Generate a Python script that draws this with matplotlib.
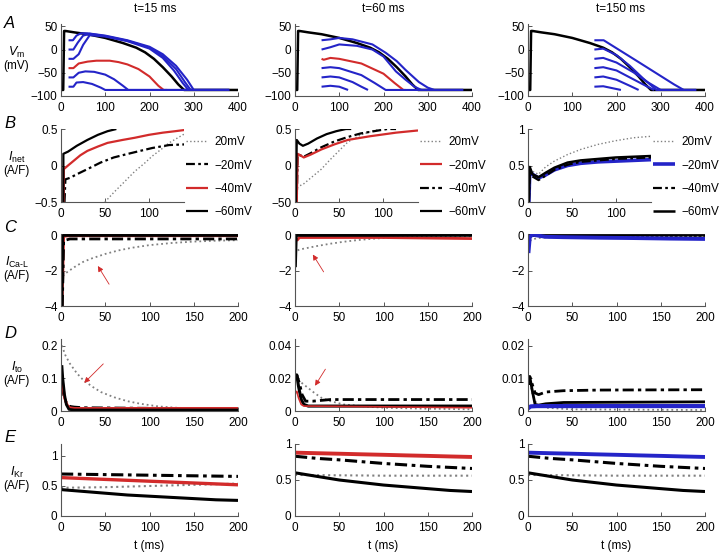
import matplotlib
matplotlib.use('Agg')
import matplotlib.pyplot as plt

plt.rcParams['font.family'] = ['Liberation Sans', 'DejaVu Sans']
plt.rcParams['font.size'] = 8.5
plt.rcParams['mathtext.fontset'] = 'custom'
plt.rcParams['mathtext.rm'] = 'Liberation Sans'
plt.rcParams['mathtext.it'] = 'Liberation Sans:italic'

BLUE = '#2424c8'
RED = '#d22b2b'
GRAY = '#808080'
DASHDOT = (0, (4, 1.5, 1.2, 1.5))

titles = ['t=15 ms', 't=60 ms', 't=150 ms']
legend_labels = ['20mV', '\u221220mV', '\u221240mV', '\u221260mV']

# ---- row A: membrane potential (ms, mV) ----
ap_t = [0, 5, 7, 10, 30, 60, 100, 140, 170, 190, 210, 230, 250, 265, 278, 400]
ap_v = [-87, -87, 40, 40, 37, 33, 25, 14, 4, -6, -20, -38, -58, -75, -87, -87]

a1_p20_t = [17, 27, 35, 45, 60, 100, 150, 200, 230, 260, 285, 300, 380]
a1_p20_v = [20, 20, 30, 35, 35, 30, 20, 6, -10, -35, -65, -87, -87]
a1_p0_t = [17, 28, 38, 50, 65, 100, 150, 200, 230, 260, 280, 293, 380]
a1_p0_v = [0, 0, 15, 30, 34, 29, 19, 4, -14, -42, -70, -87, -87]
a1_m20_t = [17, 28, 40, 50, 65, 100, 150, 200, 230, 255, 275, 288, 380]
a1_m20_v = [-20, -20, -10, 10, 31, 28, 18, 2, -18, -45, -72, -87, -87]
a1_m40_t = [17, 28, 40, 60, 80, 110, 130, 150, 175, 200, 220, 232, 240]
a1_m40_v = [-40, -40, -30, -26, -24, -24, -27, -32, -42, -58, -78, -87, -87]
a1_m60_t = [17, 28, 40, 55, 75, 100, 120, 140, 152, 380]
a1_m60_v = [-60, -60, -50, -47, -48, -54, -64, -78, -87, -87]
a1_m80_t = [17, 28, 35, 50, 70, 90, 100, 380]
a1_m80_v = [-80, -80, -71, -70, -74, -82, -87, -87]

a2_p20_t = [60, 80, 100, 130, 175, 205, 230, 250, 280, 300, 315, 380]
a2_p20_v = [20, 22, 25, 22, 11, -7, -25, -44, -70, -82, -87, -87]
a2_p0_t = [60, 80, 100, 140, 175, 200, 228, 250, 270, 286, 380]
a2_p0_v = [0, 5, 11, 8, 0, -15, -47, -65, -80, -87, -87]
a2_m20_t = [60, 65, 80, 100, 150, 200, 225, 245, 250]
a2_m20_v = [-20, -22, -18, -20, -30, -52, -72, -87, -87]
a2_m40_t = [60, 80, 100, 150, 180, 205, 380]
a2_m40_v = [-40, -38, -40, -55, -72, -87, -87]
a2_m60_t = [60, 80, 100, 130, 150, 165]
a2_m60_v = [-60, -58, -60, -70, -80, -87]
a2_m80_t = [60, 80, 100, 120]
a2_m80_v = [-80, -78, -80, -87]

a3_p20_t = [150, 171, 250, 330, 352, 380]
a3_p20_v = [20, 20, -27, -75, -87, -87]
a3_p0_t = [150, 170, 200, 230, 260, 290, 380]
a3_p0_v = [0, 2, -12, -35, -62, -87, -87]
a3_m20_t = [150, 170, 200, 240, 270, 300, 380]
a3_m20_v = [-20, -18, -28, -50, -70, -87, -87]
a3_m40_t = [150, 170, 200, 240, 270, 285]
a3_m40_v = [-40, -38, -45, -65, -80, -87]
a3_m60_t = [150, 170, 200, 230, 250]
a3_m60_v = [-60, -58, -65, -78, -87]
a3_m80_t = [150, 170, 190, 210]
a3_m80_v = [-80, -79, -83, -87]

# ---- row B: I_net (A/F) ----
b1_m60_t = [2.7, 2.7, 8, 18, 30, 42, 53, 63]
b1_m60_v = [-0.5, 0.16, 0.19, 0.27, 0.35, 0.42, 0.47, 0.5]
b1_m40_t = [3.2, 3.2, 8, 14, 22, 30, 42, 53, 70, 84, 100, 116, 130, 143]
b1_m40_v = [-0.5, -0.05, 0.0, 0.06, 0.14, 0.2, 0.26, 0.31, 0.35, 0.38, 0.42, 0.45, 0.47, 0.49]
b1_m20_t = [4, 5, 10, 18, 30, 45, 60, 73, 90, 104, 123, 143]
b1_m20_v = [-0.5, -0.19, -0.17, -0.12, -0.05, 0.04, 0.11, 0.15, 0.2, 0.24, 0.28, 0.29]
b1_p20_t = [50, 60, 70, 84, 95, 104, 115, 123, 133, 143]
b1_p20_v = [-0.5, -0.37, -0.25, -0.08, 0.03, 0.13, 0.23, 0.31, 0.38, 0.45]

b2_m60_t = [1, 2, 5, 9, 15, 25, 36, 47, 58, 64]
b2_m60_v = [-0.5, 0.35, 0.3, 0.27, 0.3, 0.37, 0.43, 0.47, 0.5, 0.5]
b2_m40_t = [2, 3, 6, 10, 18, 30, 45, 60, 75, 90, 105, 115]
b2_m40_v = [-0.5, 0.15, 0.14, 0.12, 0.17, 0.25, 0.33, 0.39, 0.44, 0.47, 0.5, 0.5]
b2_m20_t = [2, 3, 6, 10, 18, 30, 45, 60, 85, 115, 140]
b2_m20_v = [-0.5, 0.16, 0.14, 0.11, 0.15, 0.22, 0.29, 0.35, 0.4, 0.45, 0.48]
b2_p20_t = [1, 2, 10, 20, 30, 40, 50, 60, 75, 90, 100]
b2_p20_v = [-0.5, -0.3, -0.25, -0.15, -0.05, 0.08, 0.2, 0.32, 0.42, 0.48, 0.5]

b3_t = [1, 2, 5, 12, 20, 30, 45, 60, 80, 100, 120, 140]
b3_p20_v = [0, 0.45, 0.42, 0.38, 0.48, 0.56, 0.65, 0.72, 0.79, 0.84, 0.88, 0.9]
b3_m20_v = [0, 0.42, 0.38, 0.33, 0.37, 0.44, 0.5, 0.53, 0.55, 0.56, 0.57, 0.58]
b3_m40_v = [0, 0.42, 0.35, 0.3, 0.36, 0.44, 0.51, 0.55, 0.57, 0.59, 0.6, 0.61]
b3_m60_v = [0, 0.48, 0.38, 0.34, 0.4, 0.47, 0.54, 0.57, 0.59, 0.61, 0.62, 0.63]

# ---- row C: I_CaL (A/F) ----
c1_m60_t = [1, 2, 5, 200]
c1_m60_v = [-4, 0, 0, 0]
c1_m40_t = [1.2, 3, 10, 200]
c1_m40_v = [-4, -0.05, -0.02, -0.02]
c1_m20_t = [1.5, 3, 10, 200]
c1_m20_v = [-4, -0.3, -0.2, -0.2]
c1_p20_t = [2, 5, 15, 25, 35, 50, 65, 80, 100, 125, 150, 175, 200]
c1_p20_v = [-2.3, -2.15, -1.8, -1.5, -1.3, -1.05, -0.85, -0.7, -0.55, -0.43, -0.35, -0.3, -0.27]

c2_m60_t = [0.5, 1.5, 5, 200]
c2_m60_v = [-1.8, 0, 0, 0]
c2_m20_t = [2, 5, 50, 100, 150, 200]
c2_m20_v = [-0.3, -0.12, -0.12, -0.12, -0.15, -0.18]
c2_p20_t = [3, 5, 15, 25, 40, 55, 70, 90, 110, 140, 170, 200]
c2_p20_v = [-0.85, -0.8, -0.7, -0.6, -0.47, -0.36, -0.27, -0.18, -0.12, -0.08, -0.06, -0.05]

c3_m60_t = [0, 100, 200]
c3_m60_v = [0, 0, 0]
c3_p20_t = [2, 10, 30, 200]
c3_p20_v = [-0.3, -0.15, -0.1, -0.08]
c3_m20_t = [0.5, 2, 5, 10, 20, 40, 80, 120, 160, 200]
c3_m20_v = [-1.0, -0.1, 0.05, 0.0, -0.08, -0.1, -0.13, -0.15, -0.18, -0.2]

# ---- row D: I_to (A/F) ----
d1_p20_t = [1, 5, 10, 18, 25, 35, 45, 60, 75, 90, 110, 130, 160, 200]
d1_p20_v = [0.2, 0.17, 0.145, 0.115, 0.095, 0.075, 0.058, 0.042, 0.03, 0.022, 0.014, 0.01, 0.007, 0.005]
d1_m60_t = [1, 2, 4, 6, 9, 15, 200]
d1_m60_v = [0.14, 0.1, 0.05, 0.02, 0.005, 0.003, 0.003]
d1_m40_t = [1, 2, 4, 7, 10, 15, 200]
d1_m40_v = [0.11, 0.08, 0.04, 0.018, 0.01, 0.008, 0.008]
d1_m20_t = [1, 3, 6, 10, 15, 25, 200]
d1_m20_v = [0.08, 0.05, 0.025, 0.014, 0.012, 0.01, 0.006]

d2_m60_t = [1, 2, 4, 7, 10, 15, 30, 200]
d2_m60_v = [0.02, 0.022, 0.015, 0.007, 0.004, 0.003, 0.003, 0.003]
d2_m40_t = [1, 2, 5, 8, 12, 20, 40, 200]
d2_m40_v = [0.02, 0.022, 0.017, 0.01, 0.006, 0.006, 0.007, 0.007]
d2_m20_t = [1, 2, 4, 7, 10, 20, 200]
d2_m20_v = [0.011, 0.012, 0.008, 0.004, 0.003, 0.003, 0.002]
d2_p20_t = [3, 8, 15, 22, 30, 40, 55, 75, 100, 140, 200]
d2_p20_v = [0.019, 0.017, 0.014, 0.011, 0.008, 0.006, 0.004, 0.003, 0.002, 0.0015, 0.001]

d3_m40_t = [1, 2, 5, 8, 12, 20, 40, 80, 200]
d3_m40_v = [0.008, 0.0105, 0.008, 0.0055, 0.005, 0.0058, 0.0062, 0.0064, 0.0065]
d3_m60_t = [1, 2, 5, 8, 12, 20, 40, 200]
d3_m60_v = [0.008, 0.0105, 0.006, 0.002, 0.0018, 0.0022, 0.0026, 0.0028]
d3_m20_t = [0, 3, 10, 50, 200]
d3_m20_v = [0.0008, 0.0014, 0.0015, 0.0015, 0.0015]
d3_p20_t = [1, 2, 5, 10, 20, 50, 200]
d3_p20_v = [0.008, 0.009, 0.005, 0.002, 0.001, 0.0005, 0.0003]

# ---- row E: I_Kr (A/F) ----
e_t = [0, 25, 50, 75, 100, 125, 150, 175, 200]
e1_m20_v = [0.70, 0.695, 0.69, 0.685, 0.68, 0.675, 0.67, 0.665, 0.66]
e1_m40_v = [0.64, 0.625, 0.61, 0.595, 0.58, 0.565, 0.55, 0.535, 0.52]
e1_p20_v = [0.47, 0.475, 0.48, 0.49, 0.5, 0.51, 0.52, 0.53, 0.54]
e1_m60_v = [0.44, 0.41, 0.38, 0.35, 0.33, 0.31, 0.29, 0.27, 0.26]

e2_m20_v = [0.88, 0.872, 0.865, 0.857, 0.85, 0.842, 0.835, 0.827, 0.82]
e2_m40_v = [0.83, 0.80, 0.78, 0.755, 0.73, 0.71, 0.69, 0.675, 0.66]
e2_p20_v = [0.57, 0.568, 0.565, 0.563, 0.56, 0.56, 0.56, 0.56, 0.56]
e2_m60_v = [0.60, 0.55, 0.50, 0.465, 0.43, 0.405, 0.38, 0.355, 0.34]

e3_m20_v = [0.88, 0.872, 0.865, 0.857, 0.85, 0.842, 0.835, 0.827, 0.82]
e3_m40_v = [0.83, 0.80, 0.78, 0.755, 0.73, 0.71, 0.69, 0.675, 0.66]
e3_p20_v = [0.57, 0.568, 0.565, 0.563, 0.56, 0.56, 0.56, 0.56, 0.56]
e3_m60_v = [0.60, 0.55, 0.50, 0.465, 0.43, 0.405, 0.38, 0.355, 0.34]

W, H = 722, 555
fig = plt.figure(figsize=(7.22, 5.55), dpi=100)


def add_ax(left, top, width, height):
    ax = fig.add_axes([left / W, 1 - (top + height) / H, width / W, height / H])
    ax.spines['top'].set_visible(False)
    ax.spines['right'].set_visible(False)
    for s in ('left', 'bottom'):
        ax.spines[s].set_color('#555555')
        ax.spines[s].set_linewidth(0.8)
    ax.tick_params(direction='in', length=3, width=0.7, color='#555555', pad=2.5)
    ax.tick_params(axis='x', pad=4)
    ax.patch.set_alpha(0)
    return ax


def ftext(x, y, s, **kw):
    fig.text(x / W, 1 - y / H, s, **kw)


col_left = [61, 295, 528]
row_top = [24, 129, 234, 339, 444]
wide, narrow, hgt = 177, 123, 72

def dotted(ax, t, v, lw=1.0):
    return ax.plot(t, v, color=GRAY, linestyle=':', lw=lw)[0]

def dashdot(ax, t, v, lw=1.6):
    return ax.plot(t, v, color='black', linestyle=DASHDOT, lw=lw)[0]

def solid(ax, t, v, c, lw=1.6):
    return ax.plot(t, v, color=c, lw=lw, solid_capstyle='butt')[0]

# ---- row A ----
a_sets = [
    [(a1_p20_t, a1_p20_v, BLUE), (a1_p0_t, a1_p0_v, BLUE), (a1_m20_t, a1_m20_v, BLUE),
     (a1_m40_t, a1_m40_v, RED), (a1_m60_t, a1_m60_v, BLUE), (a1_m80_t, a1_m80_v, BLUE)],
    [(a2_p20_t, a2_p20_v, BLUE), (a2_p0_t, a2_p0_v, BLUE), (a2_m20_t, a2_m20_v, RED),
     (a2_m40_t, a2_m40_v, BLUE), (a2_m60_t, a2_m60_v, BLUE), (a2_m80_t, a2_m80_v, BLUE)],
    [(a3_p20_t, a3_p20_v, BLUE), (a3_p0_t, a3_p0_v, BLUE), (a3_m20_t, a3_m20_v, BLUE),
     (a3_m40_t, a3_m40_v, BLUE), (a3_m60_t, a3_m60_v, BLUE), (a3_m80_t, a3_m80_v, BLUE)],
]
for j in range(3):
    ax = add_ax(col_left[j], row_top[0], wide, hgt)
    solid(ax, ap_t, ap_v, 'black', lw=1.8)
    for t, v, c in a_sets[j]:
        solid(ax, t, v, c, lw=1.5)
    ax.set_xlim(0, 400)
    ax.set_ylim(-100, 55)
    ax.set_xticks([0, 100, 200, 300, 400])
    ax.set_yticks([-100, -50, 0, 50])

# ---- row B ----
ax = add_ax(col_left[0], row_top[1], narrow, 73)
h20 = dotted(ax, b1_p20_t, b1_p20_v)
hm20 = dashdot(ax, b1_m20_t, b1_m20_v)
hm40 = solid(ax, b1_m40_t, b1_m40_v, RED)
hm60 = solid(ax, b1_m60_t, b1_m60_v, 'black')
b_axes = [(ax, [h20, hm20, hm40, hm60])]
ax.set_ylim(-0.5, 0.5)
ax.set_yticks([-0.5, 0, 0.5])
ax.set_yticklabels(['\u22120.5', '0', '0.5'])

ax = add_ax(col_left[1], row_top[1], narrow, 73)
h20 = dotted(ax, b2_p20_t, b2_p20_v)
hm40 = dashdot(ax, b2_m40_t, b2_m40_v)
hm20 = solid(ax, b2_m20_t, b2_m20_v, RED)
hm60 = solid(ax, b2_m60_t, b2_m60_v, 'black')
b_axes.append((ax, [h20, hm20, hm40, hm60]))
ax.set_ylim(-0.5, 0.5)
ax.set_yticks([-0.5, 0, 0.5])
ax.set_yticklabels(['\u221250', '0', '0.5'])

ax = add_ax(col_left[2], row_top[1], narrow, 73)
h20 = dotted(ax, b3_t, b3_p20_v)
hm20 = solid(ax, b3_t, b3_m20_v, BLUE, lw=2.6)
hm40 = dashdot(ax, b3_t, b3_m40_v)
hm60 = solid(ax, b3_t, b3_m60_v, 'black', lw=1.8)
b_axes.append((ax, [h20, hm20, hm40, hm60]))
ax.set_ylim(0, 1)
ax.set_yticks([0, 0.5, 1])
ax.set_yticklabels(['0', '0.5', '1'])

for ax, hs in b_axes:
    ax.set_xlim(0, 140)
    ax.set_xticks([0, 50, 100])
    ax.legend(hs, legend_labels, loc='upper left', bbox_to_anchor=(1.02, 0.9),
              frameon=False, borderpad=0, borderaxespad=0, handlelength=1.8,
              handletextpad=0.6, labelspacing=0.95, fontsize=8.5)

# ---- row C ----
ax = add_ax(col_left[0], row_top[2], wide, hgt)
dotted(ax, c1_p20_t, c1_p20_v, lw=1.3)
solid(ax, c1_m40_t, c1_m40_v, RED, lw=2)
dashdot(ax, c1_m20_t, c1_m20_v, lw=2)
solid(ax, c1_m60_t, c1_m60_v, 'black', lw=2)
ax.annotate('', xy=(40, -1.6), xytext=(56, -2.9),
            arrowprops=dict(arrowstyle='-|>', color=RED, lw=0.6, mutation_scale=8))
c_axes = [ax]

ax = add_ax(col_left[1], row_top[2], wide, hgt)
dotted(ax, c2_p20_t, c2_p20_v, lw=1.3)
solid(ax, c2_m20_t, c2_m20_v, RED, lw=2)
solid(ax, c2_m60_t, c2_m60_v, 'black', lw=2)
ax.annotate('', xy=(18.5, -0.95), xytext=(34, -2.2),
            arrowprops=dict(arrowstyle='-|>', color=RED, lw=0.6, mutation_scale=8))
c_axes.append(ax)

ax = add_ax(col_left[2], row_top[2], wide, hgt)
solid(ax, c3_m60_t, c3_m60_v, 'black', lw=2)
dotted(ax, c3_p20_t, c3_p20_v, lw=1.3)
solid(ax, c3_m20_t, c3_m20_v, BLUE, lw=2.8)
c_axes.append(ax)

for ax in c_axes:
    ax.set_xlim(0, 200)
    ax.set_ylim(-4, 0.08)
    ax.set_xticks([0, 50, 100, 150, 200])
    ax.set_yticks([-4, -2, 0])

# ---- row D ----
ax = add_ax(col_left[0], row_top[3], wide, hgt)
dotted(ax, d1_p20_t, d1_p20_v, lw=1.3)
dashdot(ax, d1_m20_t, d1_m20_v, lw=2)
solid(ax, d1_m40_t, d1_m40_v, RED, lw=2)
solid(ax, d1_m60_t, d1_m60_v, 'black', lw=2)
ax.annotate('', xy=(24, 0.08), xytext=(50, 0.15),
            arrowprops=dict(arrowstyle='-|>', color=RED, lw=0.6, mutation_scale=8))
ax.set_ylim(0, 0.22)
ax.set_yticks([0, 0.1, 0.2])
ax.set_yticklabels(['0', '0.1', '0.2'])
d_axes = [ax]

ax = add_ax(col_left[1], row_top[3], wide, hgt)
dotted(ax, d2_p20_t, d2_p20_v, lw=1.3)
dashdot(ax, d2_m40_t, d2_m40_v, lw=2)
solid(ax, d2_m60_t, d2_m60_v, 'black', lw=2.2)
solid(ax, d2_m20_t, d2_m20_v, RED, lw=1.2)
ax.annotate('', xy=(21, 0.014), xytext=(36, 0.027),
            arrowprops=dict(arrowstyle='-|>', color=RED, lw=0.6, mutation_scale=8))
ax.set_ylim(0, 0.044)
ax.set_yticks([0, 0.02, 0.04])
ax.set_yticklabels(['0', '0.02', '0.04'])
d_axes.append(ax)

ax = add_ax(col_left[2], row_top[3], wide, hgt)
dotted(ax, d3_p20_t, d3_p20_v, lw=1.3)
dashdot(ax, d3_m40_t, d3_m40_v, lw=2)
solid(ax, d3_m60_t, d3_m60_v, 'black', lw=2)
solid(ax, d3_m20_t, d3_m20_v, BLUE, lw=3)
ax.set_ylim(0, 0.022)
ax.set_yticks([0, 0.01, 0.02])
ax.set_yticklabels(['0', '0.01', '0.02'])
d_axes.append(ax)

for ax in d_axes:
    ax.set_xlim(0, 200)
    ax.set_xticks([0, 50, 100, 150, 200])

# ---- row E ----
e_sets = [(e1_p20_v, e1_m20_v, e1_m40_v, e1_m60_v, RED),
          (e2_p20_v, e2_m20_v, e2_m40_v, e2_m60_v, RED),
          (e3_p20_v, e3_m20_v, e3_m40_v, e3_m60_v, BLUE)]
for j in range(3):
    ax = add_ax(col_left[j], row_top[4], wide, hgt)
    p20, m20, m40, m60, c = e_sets[j]
    dotted(ax, e_t, p20, lw=1.5)
    if j == 0:
        dashdot(ax, e_t, m20, lw=2.2)
        solid(ax, e_t, m40, c, lw=2.4)
    else:
        dashdot(ax, e_t, m40, lw=2.2)
        solid(ax, e_t, m20, c, lw=2.8)
    solid(ax, e_t, m60, 'black', lw=2.2)
    ax.set_xlim(0, 200)
    ax.set_ylim(0, 1.2 if j == 0 else 1.0)
    ax.set_xticks([0, 50, 100, 150, 200])
    ax.set_yticks([0, 0.5, 1])
    ax.set_yticklabels(['0', '0.5', '1'])
    ax.set_xlabel('t (ms)', labelpad=5)

# ---- text ----
for j, x in enumerate([155, 383, 620]):
    ftext(x, 9, titles[j], ha='center', va='center')

for s, y in zip('ABCDE', [23, 123, 228, 333, 438]):
    ftext(4, y, s, ha='left', va='center', fontsize=12, style='italic')

ylabels = [r'$V_{\mathrm{m}}$', r'$I_{\mathrm{net}}$', r'$I_{\text{Ca-L}}$',
           r'$I_{\mathrm{to}}$', r'$I_{\mathrm{Kr}}$']
units = ['(mV)', '(A/F)', '(A/F)', '(A/F)', '(A/F)']
for s, u, y in zip(ylabels, units, [52, 157, 262, 367, 472]):
    ftext(17, y, s, ha='center', va='center', fontsize=9)
    ftext(16, y + 14, u, ha='center', va='center')

fig.savefig('out.png', dpi=100)
